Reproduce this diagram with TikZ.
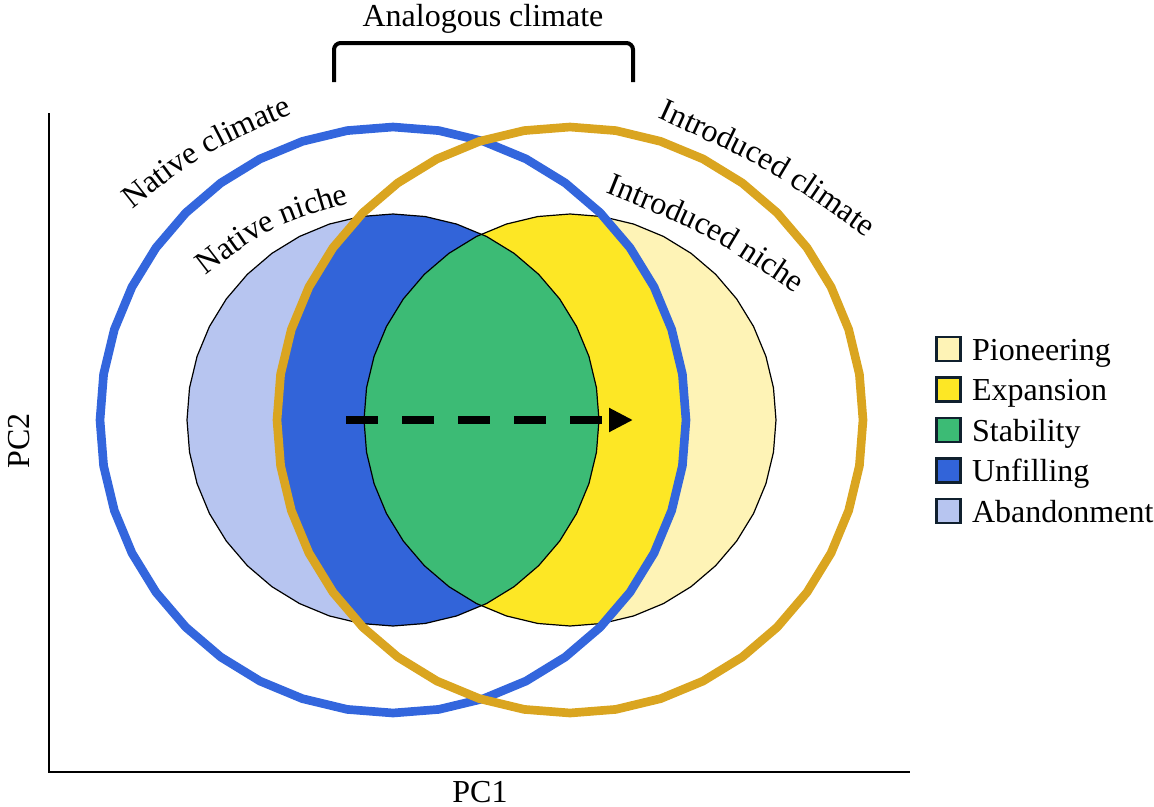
\documentclass[tikz,border=0pt]{standalone}
\usepackage{fontspec}
\setmainfont{Liberation Serif}
\usetikzlibrary{arrows.meta,positioning,decorations.text}

\definecolor{pioneer}{HTML}{FEF3B6}
\definecolor{expand}{HTML}{FDE725}
\definecolor{stable}{HTML}{3CBB75}
\definecolor{unfill}{HTML}{3264D9}
\definecolor{abandon}{HTML}{B7C5F0}
\definecolor{natblue}{HTML}{3366DD}
\definecolor{intgold}{HTML}{DAA520}
\definecolor{keyrim}{HTML}{10202E}

\newcommand{\lblfont}{\fontsize{24}{29}\selectfont}
% 40-sided ring: centre x, centre y, radius
\newcommand{\ring}[3]{plot[samples=41,domain=0:360,variable=\ang] ({#1+#3*cos(\ang)},{#2+#3*sin(\ang)}) -- cycle}

\begin{document}
\begin{tikzpicture}[x=0.75pt,y=-0.75pt,node distance=10.4pt and 7.5pt,
    climate/.style={line width=6.5pt},
    nicheline/.style={draw=black,line width=0.9pt},
    keybox/.style={draw=keyrim,line width=2pt,minimum size=18pt,inner sep=0pt},
    keytext/.style={font=\lblfont,inner sep=0pt,text height=20.5pt,text depth=4pt},
    curvelabel/.style={decorate,decoration={text along path,text align=center,text={|\lblfont|#1}}},
    shiftarrow/.style={line width=6pt,dash pattern=on 24pt off 18pt,-{Triangle[length=18pt,width=17pt]}},
    bracket/.style={line width=3pt,rounded corners=5pt},
    axis/.style={line width=1.9pt}]

\useasboundingbox (0,0) rectangle (1154,807);

% niche regions
\fill[pioneer] \ring{570}{420}{206};
\begin{scope}
  \clip \ring{393}{420}{293};
  \fill[expand] \ring{570}{420}{206};
\end{scope}
\fill[abandon] \ring{393}{420}{206};
\begin{scope}
  \clip \ring{570}{420}{293};
  \fill[unfill] \ring{393}{420}{206};
\end{scope}
\begin{scope}
  \clip \ring{570}{420}{206};
  \fill[stable] \ring{393}{420}{206};
\end{scope}
\draw[nicheline] \ring{393}{420}{206};
\draw[nicheline] \ring{570}{420}{206};

% climate rings
\draw[climate,natblue] \ring{393}{420}{293};
\draw[climate,intgold] \ring{570}{420}{293};

% niche shift
\coordinate (shift0) at (346,420);
\coordinate (shift1) at (633,420);
\draw[shiftarrow] (shift0) -- (shift1);

% ring labels
\coordinate (natclim0) at (116,222);
\coordinate (natclim1) at (204,152);
\coordinate (natclim2) at (312,106);
\path[curvelabel=Native climate] (natclim0) .. controls (natclim1) .. (natclim2);

\coordinate (natnich0) at (194,285);
\coordinate (natnich1) at (270,226);
\coordinate (natnich2) at (364,199);
\path[curvelabel=Native niche] (natnich0) .. controls (natnich1) .. (natnich2);

\coordinate (intclim0) at (649,114);
\coordinate (intclim1) at (768,168);
\coordinate (intclim2) at (874,243);
\path[curvelabel=Introduced climate] (intclim0) .. controls (intclim1) .. (intclim2);

\coordinate (intnich0) at (596,189);
\coordinate (intnich1) at (706,233);
\coordinate (intnich2) at (804,299);
\path[curvelabel=Introduced niche] (intnich0) .. controls (intnich1) .. (intnich2);

% analogous climate bracket
\node[font=\lblfont,anchor=base] (analog) at (483,26) {Analogous climate};
\coordinate (anleft) at (334,82);
\coordinate (anright) at (633,82);
\draw[bracket] (anleft) -- ++(0,-39) -| (anright);

% axes
\coordinate (origin) at (49,772);
\coordinate (ytop) at (49,113);
\coordinate (xend) at (910,772);
\draw[axis] (ytop) -- (origin) -- (xend);
\node[font=\lblfont,anchor=base] (pc1) at (480,802) {PC1};
\node[font=\lblfont,rotate=90,anchor=base] (pc2) at (30,441) {PC2};

% legend
\node[keybox,fill=pioneer] (keypio) at (948.5,349) {};
\node[keybox,fill=expand,below=of keypio] (keyexp) {};
\node[keybox,fill=stable,below=of keyexp] (keysta) {};
\node[keybox,fill=unfill,below=of keysta] (keyunf) {};
\node[keybox,fill=abandon,below=of keyunf] (keyaba) {};

\node[keytext,right=of keypio] (txtpio) {Pioneering};
\node[keytext,right=of keyexp] (txtexp) {Expansion};
\node[keytext,right=of keysta] (txtsta) {Stability};
\node[keytext,right=of keyunf] (txtunf) {Unfilling};
\node[keytext,right=of keyaba] (txtaba) {Abandonment};

\end{tikzpicture}
\end{document}
